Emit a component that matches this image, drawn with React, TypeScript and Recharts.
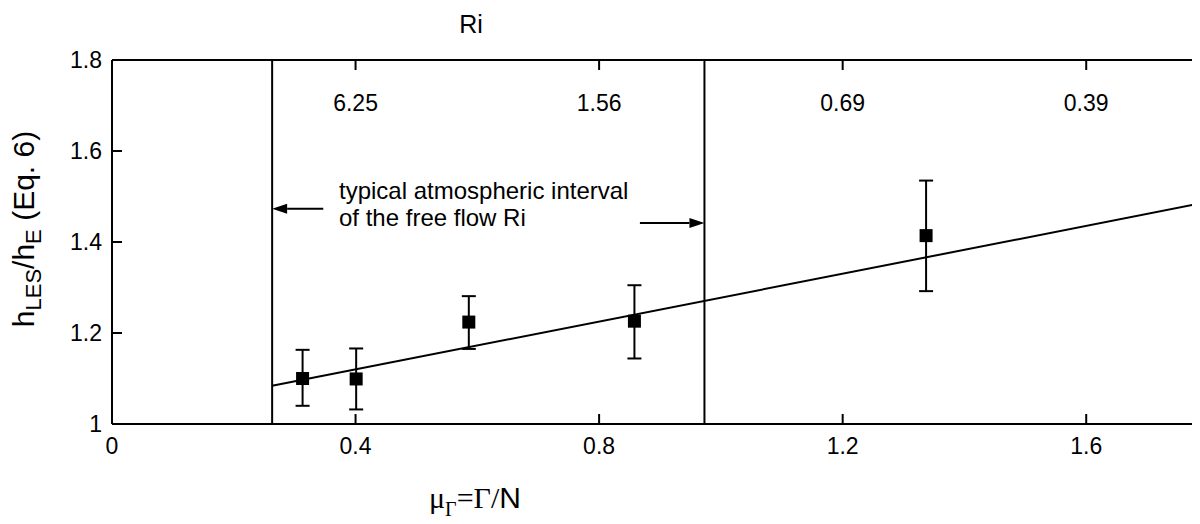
import { ComposedChart, XAxis, YAxis, Scatter, ErrorBar, ReferenceLine } from "recharts";

// mu_Gamma = Gamma/N, bottom axis
const muTicks = [0, 0.4, 0.8, 1.2, 1.6];
// Ri on the top axis, at the same positions
const riTicks = [0.4, 0.8, 1.2, 1.6];
const riLabels = ["6.25", "1.56", "0.69", "0.39"];
const hTicks = [1, 1.2, 1.4, 1.6, 1.8];
const hRightTicks = [1.2, 1.4, 1.6];

// LES points with error bars
const muValues = [0.313, 0.401, 0.586, 0.858, 1.337];
const hRatio = [1.1, 1.099, 1.224, 1.226, 1.414];
const errLow = [0.06, 0.067, 0.059, 0.082, 0.122];
const errHigh = [0.063, 0.067, 0.057, 0.079, 0.121];

// fitted line
const fitMu = [0.263, 1.8];
const fitH = [1.084, 1.488];

// typical atmospheric interval of Ri
const intervalMu = [0.263, 0.973];
const arrowY = [1.473, 1.442];
const arrowTail = [0.347, 0.867];

const points = muValues.map((mu, i) => ({ mu, h: hRatio[i], err: [errLow[i], errHigh[i]] }));
const fitLine = fitMu.map((mu, i) => ({ mu, h: fitH[i] }));

const sans = "'Liberation Sans', Arial, sans-serif";
const serif = "'Liberation Serif', 'Times New Roman', serif";
const tickStyle = { fill: "#000", fontSize: 23, fontFamily: sans };

const Square = (p: any) => (
  <rect x={p.cx - 6.5} y={p.cy - 6.5} width={13} height={13} fill="#000" />
);

const Nothing = () => <g />;

const RiTick = (p: any) => {
  const i = riTicks.indexOf(p.payload.value);
  return (
    <text x={p.x} y={p.y + 41} textAnchor="middle" fill="#000" fontSize={23} fontFamily={sans}>
      {riLabels[i]}
    </text>
  );
};

const Arrow = (p: any) => {
  const { x1, y1, x2, y2 } = p;
  const ang = Math.atan2(y2 - y1, x2 - x1);
  const len = 15;
  const half = 5;
  const bx = x2 - len * Math.cos(ang);
  const by = y2 - len * Math.sin(ang);
  const px = -Math.sin(ang) * half;
  const py = Math.cos(ang) * half;
  return (
    <g>
      <line x1={x1} y1={y1} x2={bx} y2={by} stroke="#000" strokeWidth={2} />
      <polygon points={`${x2},${y2} ${bx + px},${by + py} ${bx - px},${by - py}`} fill="#000" />
    </g>
  );
};

export default function App() {
  return (
    <div
      style={{
        position: "relative",
        width: 1200,
        height: 524,
        margin: -8,
        overflow: "hidden",
        background: "#fff",
      }}
    >
      <ComposedChart width={1215} height={524} margin={{ top: 30, right: 2, bottom: 60, left: 52 }}>
        <XAxis
          xAxisId="bottom"
          dataKey="mu"
          type="number"
          domain={[0, 1.8]}
          allowDataOverflow
          ticks={muTicks}
          interval={0}
          height={40}
          tickSize={-10}
          tickMargin={24}
          tick={tickStyle}
          fontSize={23}
          stroke="#000"
          strokeWidth={2}
        />
        <XAxis
          xAxisId="top"
          dataKey="mu"
          orientation="top"
          type="number"
          domain={[0, 1.8]}
          allowDataOverflow
          ticks={riTicks}
          interval={0}
          height={30}
          tickSize={-10}
          tickMargin={0}
          tick={<RiTick />}
          stroke="#000"
          strokeWidth={2}
        />
        <YAxis
          yAxisId="left"
          type="number"
          domain={[1, 1.8]}
          allowDataOverflow
          ticks={hTicks}
          interval={0}
          width={60}
          tickSize={-10}
          tickMargin={20}
          tick={tickStyle}
          fontSize={23}
          stroke="#000"
          strokeWidth={2}
        />
        <YAxis
          yAxisId="right"
          orientation="right"
          type="number"
          domain={[1, 1.8]}
          allowDataOverflow
          ticks={hRightTicks}
          interval={0}
          width={5}
          tickSize={-13}
          tickFormatter={() => ""}
          stroke="#000"
          strokeWidth={2}
        />
        {intervalMu.map((m) => (
          <ReferenceLine key={m} xAxisId="bottom" yAxisId="left" x={m} stroke="#000" strokeWidth={2} />
        ))}
        <ReferenceLine
          xAxisId="bottom"
          yAxisId="left"
          segment={[
            { x: arrowTail[0], y: arrowY[0] },
            { x: intervalMu[0], y: arrowY[0] },
          ]}
          shape={<Arrow />}
        />
        <ReferenceLine
          xAxisId="bottom"
          yAxisId="left"
          segment={[
            { x: arrowTail[1], y: arrowY[1] },
            { x: intervalMu[1], y: arrowY[1] },
          ]}
          shape={<Arrow />}
        />
        <Scatter
          xAxisId="top"
          yAxisId="right"
          data={fitLine}
          dataKey="h"
          line={{ stroke: "#000", strokeWidth: 2 }}
          shape={<Nothing />}
          isAnimationActive={false}
        />
        <Scatter
          xAxisId="bottom"
          yAxisId="left"
          data={points}
          dataKey="h"
          shape={<Square />}
          isAnimationActive={false}
        >
          <ErrorBar dataKey="err" direction="y" width={7} stroke="#000" strokeWidth={2} isAnimationActive={false} />
        </Scatter>
      </ComposedChart>
      <svg
        width={1200}
        height={524}
        style={{ position: "absolute", left: 0, top: 0, pointerEvents: "none" }}
      >
        <text x={471} y={33} textAnchor="middle" fontSize={25} fontFamily={sans} fill="#000">
          Ri
        </text>
        <text x={339} y={199} fontSize={24} fontFamily={sans} fill="#000">
          typical atmospheric interval
        </text>
        <text x={339} y={226} fontSize={24} fontFamily={sans} fill="#000">
          of the free flow Ri
        </text>
        <text transform="translate(34,229) rotate(-90)" textAnchor="middle" fontFamily={sans} fill="#000" fontSize={30}>
          h
          <tspan fontSize={22} dy={7}>LES</tspan>
          <tspan dy={-7}>/h</tspan>
          <tspan fontSize={22} dy={7}>E</tspan>
          <tspan dy={-7}> (Eq. 6)</tspan>
        </text>
        <text x={429} y={508} fill="#000" fontSize={30}>
          <tspan fontFamily={serif}>μ</tspan>
          <tspan fontFamily={serif} fontSize={20} dy={8}>Γ</tspan>
          <tspan fontFamily={serif} dy={-8}>=Γ/</tspan>
          <tspan fontFamily={sans}>N</tspan>
        </text>
      </svg>
    </div>
  );
}
